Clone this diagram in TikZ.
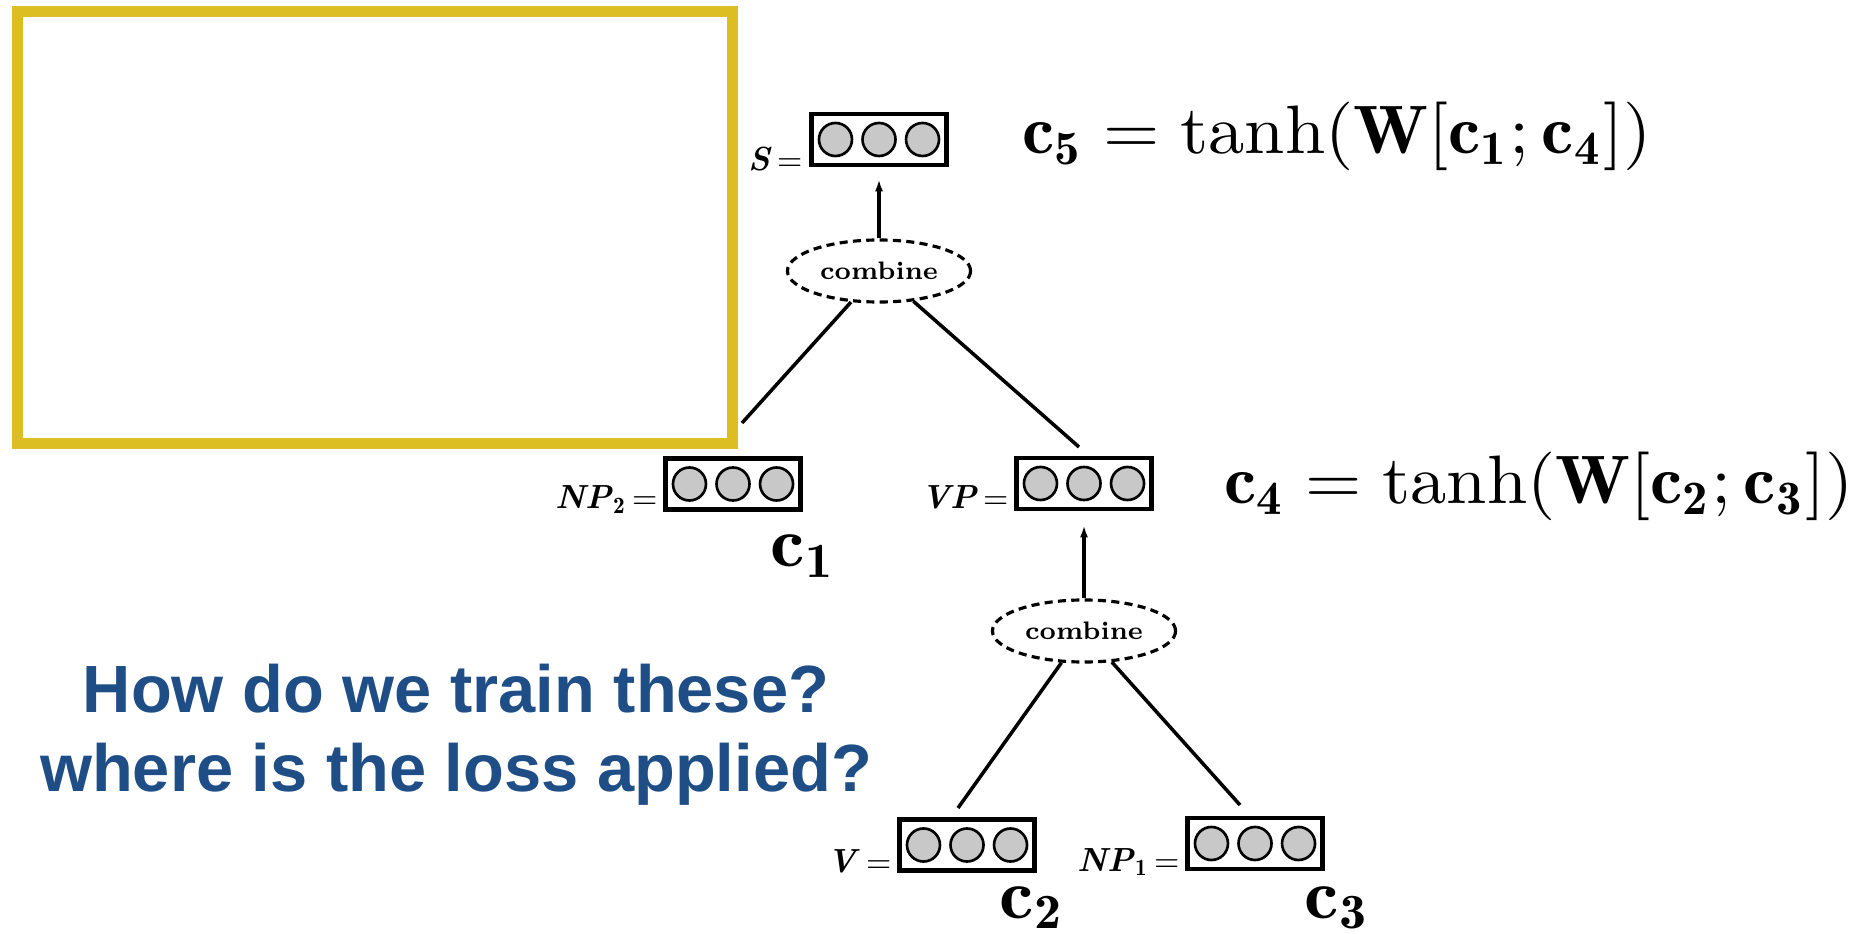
\documentclass[tikz,border=0pt]{standalone}
\usepackage{graphicx}
\usepackage{fontspec}
\newfontfamily\qfont{Liberation Sans}
\usetikzlibrary{shapes.geometric,arrows.meta}
\definecolor{frameyellow}{RGB}{220,190,35}
\definecolor{qblue}{RGB}{31,78,135}
\definecolor{unitgray}{RGB}{200,200,200}

% a vector: a framed box holding three grey units
\newcommand{\vecnode}[3]{%
  \node[vecbox] (#1) at (#2,#3) {};
  \foreach \k/\n in {-1/a,0/b,1/c}
    \node[unit] (#1\n) at ([xshift=\k*0.435cm]#1.center) {};
}
% large math set at 10pt design size and enlarged
\newcommand{\bigmath}[1]{\scalebox{2.06}[1.95]{\fontsize{10}{12}\selectfont$#1$}}
\newcommand{\cvec}[1]{\scalebox{2.2}[2.0]{\fontsize{10}{12}\selectfont$\mathbf{c}_{\mathbf{#1}}$}}

\begin{document}
\begin{tikzpicture}[x=0.01cm,y=-0.01cm,
  vecbox/.style={draw, line width=1.3pt, minimum width=1.35cm, minimum height=0.51cm, inner sep=0pt, fill=white},
  unit/.style={circle, draw, line width=0.75pt, fill=unitgray, minimum size=0.33cm, inner sep=0pt},
  combo/.style={ellipse, draw, dash pattern=on 2.3pt off 1.5pt, line width=0.9pt,
    minimum width=1.83cm, minimum height=0.62cm, inner sep=0pt,
    font=\fontsize{7.2}{8}\selectfont\bfseries},
  link/.style={line width=1pt},
  up/.style={line width=0.9pt, -{Latex[length=0.12cm,width=0.08cm]}},
  tag/.style={anchor=base east, inner sep=0pt, font=\fontsize{9.5}{11}\selectfont},
  cname/.style={anchor=base west, inner sep=0pt},
  eqn/.style={anchor=base west, inner sep=0pt},
  qtext/.style={anchor=base, align=center, inner sep=0pt, text=qblue,
    font=\qfont\bfseries\fontsize{19}{22.2}\selectfont},
  cover/.style={draw=frameyellow, line width=3.1pt, fill=white, inner sep=0pt,
    minimum width=7.15cm, minimum height=4.32cm}
  ]
\useasboundingbox (0,0) rectangle (1864,934);

% covering frame
\node[cover] (frame) at (375,227.5) {};

% tree nodes
\vecnode{s}{879}{139.5}
\vecnode{np2}{733}{484}
\vecnode{vp}{1084}{483.5}
\vecnode{v}{967}{845}
\vecnode{np1}{1255}{843.5}

\node[combo] (e1) at (879,271) {combine};
\node[combo] (e2) at (1084,631) {combine};

% free ends of the links
\coordinate (l1) at (742,423);
\coordinate (l2) at (1079,447);
\coordinate (l3) at (958,808);
\coordinate (l4) at (1240,805);

\draw[link] (e1) -- (l1);
\draw[link] (e1) -- (l2);
\draw[link] (e2) -- (l3);
\draw[link] (e2) -- (l4);
\draw[up] (e1.north) -- ([yshift=-0.12cm]s.south);
\draw[up] (e2.north) -- ([yshift=-0.14cm]vp.south);

% labels of the vectors
\node[tag] (ts) at ([xshift=-0.06cm,yshift=-0.03cm]s.south west) {\textbf{\textit{S}}\,$=$};
\node[tag] (tnp2) at ([xshift=-0.05cm,yshift=0.03cm]np2.south west) {\textbf{\textit{NP}}$_{\mathbf{2}}$\,$=$};
\node[tag] (tvp) at ([xshift=-0.05cm,yshift=0.03cm]vp.south west) {\textbf{\textit{VP}}\,$=$};
\node[tag] (tv) at ([xshift=-0.05cm,yshift=0.0cm]v.south west) {\textbf{\textit{V}}\,$=$};
\node[tag] (tnp1) at ([xshift=-0.05cm,yshift=0.0cm]np1.south west) {\textbf{\textit{NP}}$_{\mathbf{1}}$\,$=$};

\node[cname] (c1) at (770,567) {\cvec{1}};
\node[cname] (c2) at (999,918) {\cvec{2}};
\node[cname] (c3) at (1304,918) {\cvec{3}};

% composition equations
\node[eqn] (eq5) at (1022,154) {\bigmath{\mathbf{c}_{\mathbf{5}} = \tanh(\mathbf{W}[\mathbf{c}_{\mathbf{1}};\mathbf{c}_{\mathbf{4}}])}};
\node[eqn] (eq4) at (1224,504) {\bigmath{\mathbf{c}_{\mathbf{4}} = \tanh(\mathbf{W}[\mathbf{c}_{\mathbf{2}};\mathbf{c}_{\mathbf{3}}])}};

% question
\node[qtext] (q) at (456,791) {How do we train these?\\where is the loss applied?};
\end{tikzpicture}
\end{document}
